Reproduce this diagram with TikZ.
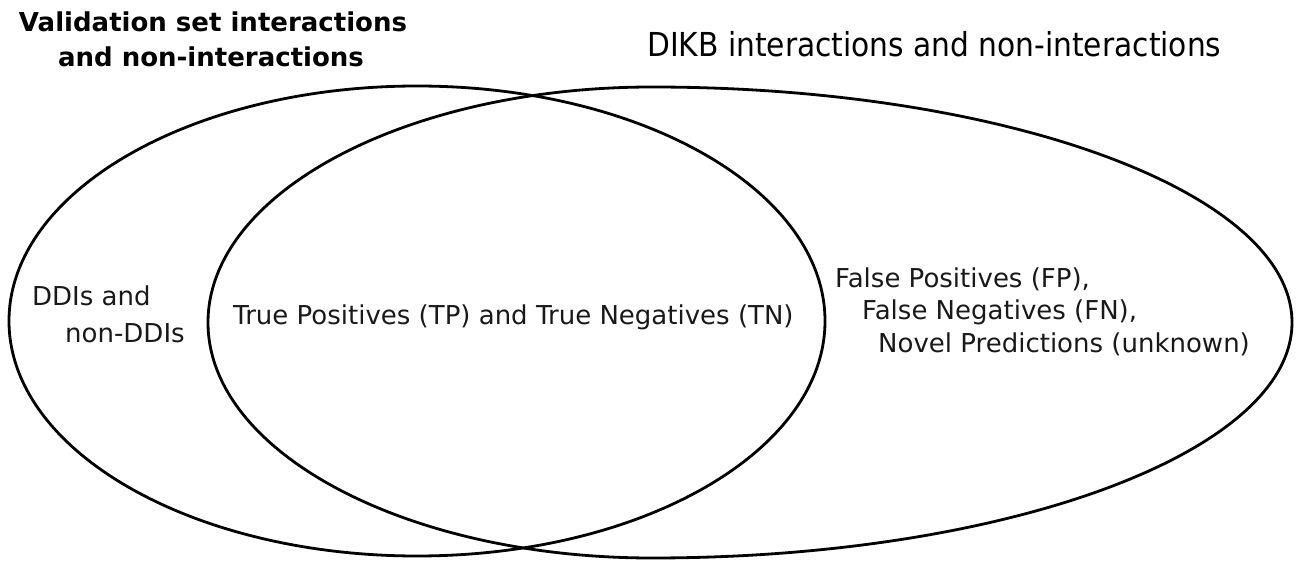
\documentclass[tikz,border=0pt]{standalone}
\usepackage{fontspec}
\setmainfont{DejaVu Sans}
\newfontfamily\condfont{DejaVu Sans Condensed}
\usepackage{tikz}
\usetikzlibrary{positioning}

\begin{document}
\begin{tikzpicture}[x=1pt, y=-1pt,
      set/.style={draw=black, line width=2.8pt},
      lbl/.style={inner sep=0pt, anchor=base west, text=black!90,
                  font=\fontsize{26}{32}\selectfont},
      ttl/.style={inner sep=0pt, anchor=base,
                  font=\fontsize{26}{32}\selectfont\bfseries},
      ttlr/.style={inner sep=0pt, anchor=base west,
                   font=\fontsize{33}{38}\selectfont\condfont}]
      \useasboundingbox (0,0) rectangle (1302,561);
      % validation set
      \draw[set] (417,321) ellipse [x radius=408pt, y radius=235pt];
      % DIKB, wider on the right
      \draw[set] (652,87) arc[start angle=90, end angle=270, x radius=444pt, y radius=235.5pt]
                 arc[start angle=-90, end angle=90, x radius=640pt, y radius=235.5pt] -- cycle;
      \node[ttl] (val)  at (213,32) {Validation set interactions};
      \node[ttl] (val2) at (211,67) {and non-interactions};
      \node[ttlr] (dikb) at (647,57) {DIKB interactions and non-interactions};
      \node[lbl] (ddi)  at (32,306) {DDIs and};
      \node[lbl] (ddi2) at (65,343) {non-DDIs};
      \node[lbl] (tp)   at (233,325) {True Positives (TP) and True Negatives (TN)};
      \node[lbl] (fp)   at (835,288) {False Positives (FP),};
      \node[lbl] (fn)   at (862,320) {False Negatives (FN),};
      \node[lbl] (nov)  at (878,353) {Novel Predictions (unknown)};
    \end{tikzpicture}
\end{document}
